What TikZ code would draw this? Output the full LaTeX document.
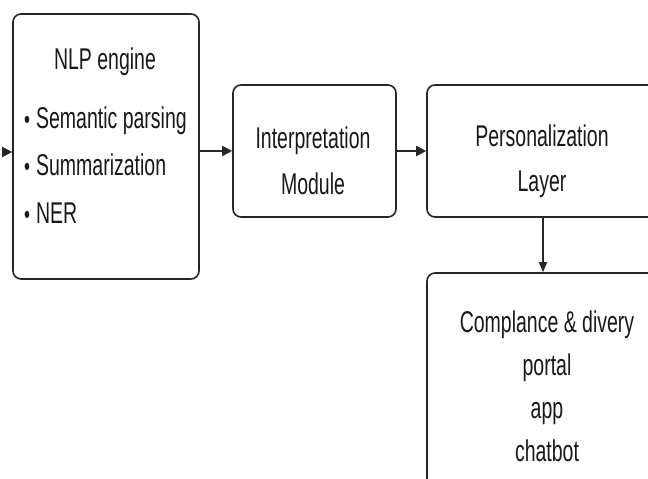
\documentclass[tikz,border=0pt]{standalone}
\usepackage{fontspec}
\setmainfont{Liberation Sans}[FakeStretch=0.65]
\usetikzlibrary{arrows.meta}
\begin{document}
\begin{tikzpicture}[x=1pt,y=-1pt,
  box/.style={draw=black!85, line width=1.6pt, rounded corners=8pt, fill=white, inner sep=0pt},
  lbl/.style={text=black!90, inner sep=0pt, font=\fontsize{30}{46}\selectfont},
  flow/.style={draw=black!85, line width=1.8pt, -{Triangle[length=10pt,width=10pt]}},
  drop/.style={draw=black!85, line width=1.1pt, -{Triangle[length=10pt,width=8pt]}}]
\useasboundingbox (0,0) rectangle (648,479);

% boxes
\node[box, minimum width=186pt, minimum height=265pt] (nlp) at (106,146.5) {};
\node[box, minimum width=163pt, minimum height=132pt] (interp) at (314.5,151) {};
\node[box, minimum width=232pt, minimum height=132pt] (pers) at (543,151) {};
\node[box, minimum width=232pt, minimum height=214pt] (comp) at (543,380) {};

% labels (multi-line nodes sit on the baseline of their last line)
\node[lbl, anchor=base] (nlptitle) at (105,69) {NLP engine};
\node[lbl, anchor=base west, align=left, font=\fontsize{30}{47.5}\selectfont] (nlpitems) at (24,223)
  {{\fontsize{26}{26}\selectfont\textbullet}\hspace{6pt}Semantic parsing\\
   {\fontsize{26}{26}\selectfont\textbullet}\hspace{6pt}Summarization\\
   {\fontsize{26}{26}\selectfont\textbullet}\hspace{6pt}NER};
\node[lbl, anchor=base, align=center] (interptext) at (313,194) {Interpretation\\Module};
\node[lbl, anchor=base, align=center, font=\fontsize{30}{45}\selectfont] (perstext) at (542,191) {Personalization\\Layer};
\node[lbl, anchor=base, align=center, font=\fontsize{30}{43}\selectfont] (comptext) at (547,461.5)
  {Complance \& divery\\portal\\app\\chatbot};

% connectors
\coordinate (src) at (5,152);
\draw[flow] (src) -- (src -| nlp.west);
\draw[flow] (nlp.east |- interp.west) -- (interp.west);
\draw[flow] (interp.east) -- (pers.west);
\draw[drop] (pers.south) -- (comp.north);
\end{tikzpicture}
\end{document}
